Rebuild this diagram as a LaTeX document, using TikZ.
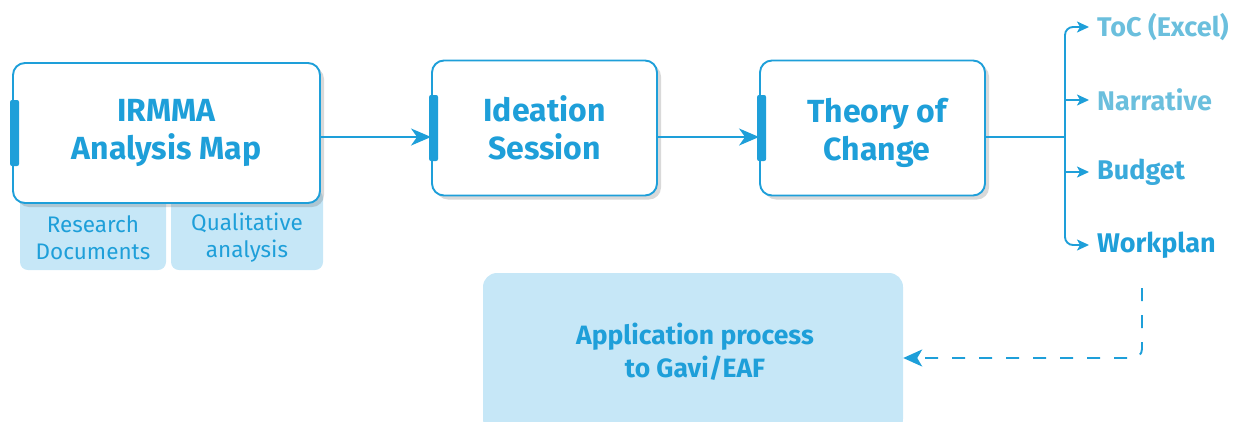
\documentclass[tikz,border=0pt]{standalone}
\usepackage{fontspec}
\setmainfont{Fira Sans}
\usetikzlibrary{arrows.meta,shadows,calc}
\definecolor{mainblue}{HTML}{1E9FD9}
\definecolor{lightfill}{HTML}{C6E7F7}
\definecolor{paleblue}{HTML}{6BBFDD}
\definecolor{midblue}{HTML}{3AAADB}
\tikzset{
  mainbox/.style={draw=mainblue, line width=1.9pt, rounded corners=12pt, fill=white,
    minimum width=#1, minimum height=135pt, align=center, text=mainblue,
    font=\fontsize{32}{38}\selectfont\bfseries,
    drop shadow={shadow xshift=4pt, shadow yshift=-4pt, opacity=0.25, fill=black!60}},
  subbox/.style={fill=lightfill, rounded corners=8pt, inner sep=0pt},
  subtext/.style={text=mainblue, font=\fontsize{22.5}{27}\selectfont, align=center},
  flow/.style={draw=mainblue, line width=1.9pt, -{Stealth[length=20pt,width=17pt,inset=6pt]}},
  branch/.style={draw=mainblue, line width=1.9pt, rounded corners=8pt, -{Stealth[length=12pt,width=11pt,inset=3pt]}},
  outlbl/.style={anchor=west, font=\fontsize{27}{30}\selectfont\bfseries, inner sep=0pt},
  tab/.style={fill=mainblue, rounded corners=2pt}
}
\begin{document}
\begin{tikzpicture}[x=1pt,y=-1pt]
\useasboundingbox (0,0) rectangle (1233,421);
% sub boxes
\node[subbox, minimum width=146pt, minimum height=80pt] (res) at (93,230) {};
\node[subbox, minimum width=152pt, minimum height=80pt] (qual) at (247,230) {};
\node[subtext] (restext) at (93,238) {Research\\Documents};
\node[subtext] (qualtext) at (247,238) {Qualitative\\analysis};
% main boxes
\node[mainbox=307pt, minimum height=140pt] (irm) at (166.5,133) {IRMMA\\Analysis Map};
\node[mainbox=225pt] (ide) at (544.5,128) {Ideation\\Session};
\node[mainbox=225pt] (toc) at (872.5,128) {};
\node[text=mainblue, align=center, font=\fontsize{32}{38}\selectfont\bfseries] (toctext) at (877,133) {Theory of\\Change};
% tabs
\fill[tab] ($(irm.west)+(-2,-33)$) rectangle ($(irm.west)+(7,33)$);
\fill[tab] ($(ide.west)+(-2,-33)$) rectangle ($(ide.west)+(7,33)$);
\fill[tab] ($(toc.west)+(-2,-33)$) rectangle ($(toc.west)+(7,33)$);
% flow arrows
\draw[flow] (irm.east |- 0,137) -- (ide.west |- 0,137);
\draw[flow] (ide.east |- 0,137) -- (toc.west |- 0,137);
% outputs
\node[outlbl, text=paleblue] (o1) at (1097,27) {ToC (Excel)};
\node[outlbl, text=paleblue] (o2) at (1097,100) {Narrative};
\node[outlbl, text=midblue] (o3) at (1097,172) {Budget};
\node[outlbl, text=mainblue] (o4) at (1097,245) {Workplan};
\coordinate (br) at (1065,137);
\draw[draw=mainblue, line width=1.9pt] (toc.east |- br) -- (br);
\draw[branch] (br) |- ($(o1.west)+(-8,0)$);
\draw[branch] (br) |- ($(o4.west)+(-8,0)$);
\draw[branch] (br |- o2) -- ($(o2.west)+(-8,0)$);
\draw[branch] (br |- o3) -- ($(o3.west)+(-8,0)$);
% application
\node[fill=lightfill, rounded corners=14pt, minimum width=420pt, minimum height=160pt] (app) at (693,353) {};
\node[text=mainblue, align=center, font=\fontsize{26.5}{33}\selectfont\bfseries] (apptext) at (695,352) {Application process\\to Gavi/EAF};
\coordinate (wp) at (1142,288);
\draw[draw=mainblue, line width=1.9pt, dash pattern=on 13pt off 14pt, rounded corners=9pt,
  -{Stealth[length=19pt,width=17pt,inset=5pt]}] (wp) |- (app.east |- 0,358);
\end{tikzpicture}
\end{document}
